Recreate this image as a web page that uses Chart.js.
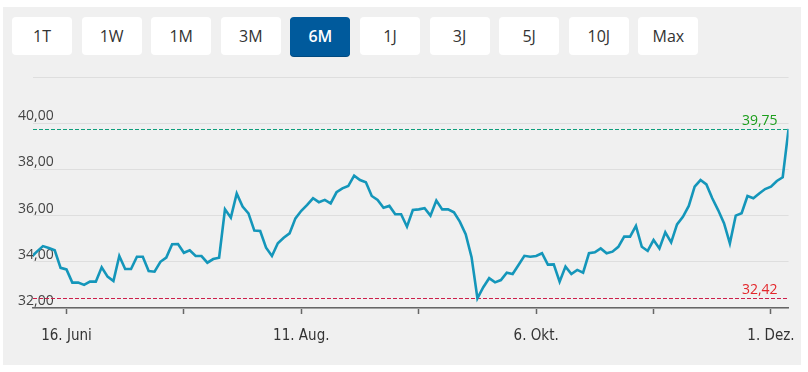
<!DOCTYPE html>
<html lang="de">
<head>
<meta charset="utf-8">
<script src="https://cdn.jsdelivr.net/npm/chart.js@4"></script>
<style>
  html, body { margin: 0; padding: 0; background: #fff; }
  body { width: 808px; height: 372px; position: relative; overflow: hidden; font-family: "Open Sans", sans-serif; }
  .panel { position: absolute; left: 3px; top: 7px; width: 798px; height: 358px; background: #f0f0f0; }
  .btn {
    position: absolute; top: 17px; width: 60px; height: 38px; border-radius: 4px;
    background: #fff; color: #333; font-size: 16px; line-height: 38px; text-align: center;
  }
  .btn.active { background: #005a9c; color: #fff; font-weight: 600; height: 39px; box-shadow: 0 1px 0 #004a80; }
  #price-chart { position: absolute; left: 0; top: 0; }
</style>
</head>
<body>
<div class="panel"></div>
<div id="buttons"></div>
<canvas id="price-chart" width="808" height="372"></canvas>
<script>
// Zeitraum-Buttons
const ranges = ['1T', '1W', '1M', '3M', '6M', '1J', '3J', '5J', '10J', 'Max'];
const activeRange = '6M';

// Kursverlauf (Handelstage, Index -1 liegt knapp vor dem sichtbaren Bereich)
const prices = [
  34.20, 34.45, 34.68, 34.60, 34.50, 33.74, 33.67, 33.10, 33.10, 33.00,
  33.14, 33.14, 33.76, 33.36, 33.17, 34.25, 33.69, 33.69, 34.22, 34.22,
  33.60, 33.57, 34.00, 34.18, 34.76, 34.77, 34.39, 34.50, 34.25, 34.25,
  33.96, 34.12, 34.18, 36.27, 35.91, 36.96, 36.39, 36.10, 35.35, 35.33,
  34.61, 34.25, 34.80, 35.04, 35.23, 35.88, 36.21, 36.46, 36.75, 36.58,
  36.68, 36.53, 37.01, 37.18, 37.28, 37.73, 37.54, 37.44, 36.85, 36.68,
  36.34, 36.42, 36.06, 36.06, 35.52, 36.24, 36.27, 36.32, 36.00, 36.65,
  36.27, 36.27, 36.14, 35.74, 35.20, 34.20, 32.42, 32.90, 33.29, 33.11,
  33.21, 33.53, 33.47, 33.86, 34.26, 34.22, 34.25, 34.37, 33.88, 33.89,
  33.14, 33.79, 33.47, 33.65, 33.53, 34.37, 34.41, 34.58, 34.37, 34.44,
  34.65, 35.09, 35.09, 35.55, 34.65, 34.47, 34.94, 34.58, 35.28, 34.84,
  35.62, 35.95, 36.42, 37.25, 37.54, 37.35, 36.75, 36.24, 35.67, 34.80,
  36.00, 36.10, 36.85, 36.75, 36.96, 37.15, 37.25, 37.50, 37.66, 39.75
];
const firstIndex = -1;

// Achsenbeschriftung
const tickPositions = [5, 25, 45, 65, 85, 105, 125];
const tickLabels = ['16. Juni', '', '11. Aug.', '', '6. Okt.', '', '1. Dez.'];
const yTicks = [32, 34, 36, 38, 40, 42];

// Markierungen: aktueller Kurs und Tief
const markerValues = [39.75, 32.42];
const markerLineColors = ['#109f7c', '#cc1f4a'];
const markerTextColors = ['#1c9e1c', '#e3262b'];

function formatDe(value) {
  return Number(value).toFixed(2).replace('.', ',');
}

// Buttons erzeugen
const btnWrap = document.getElementById('buttons');
ranges.forEach((label, i) => {
  const el = document.createElement('div');
  el.className = 'btn' + (label === activeRange ? ' active' : '');
  el.style.left = (12 + i * 69.6) + 'px';
  el.textContent = label;
  btnWrap.appendChild(el);
});

// Gestrichelte Linien für Kurs / Tief
const markerPlugin = {
  id: 'markers',
  beforeDatasetsDraw(chart) {
    const { ctx, chartArea, scales } = chart;
    ctx.save();
    markerValues.forEach((value, i) => {
      const y = Math.round(scales.y.getPixelForValue(value)) + 0.5;
      ctx.strokeStyle = markerLineColors[i];
      ctx.lineWidth = 1;
      ctx.setLineDash([4, 2]);
      ctx.beginPath();
      ctx.moveTo(chartArea.left, y);
      ctx.lineTo(chartArea.right, y);
      ctx.stroke();
      ctx.setLineDash([]);
      ctx.fillStyle = markerTextColors[i];
      ctx.font = '14px "Open Sans", sans-serif';
      ctx.textAlign = 'right';
      ctx.textBaseline = 'bottom';
      ctx.fillText(formatDe(value), chartArea.right - 11, y - 1);
    });
    ctx.restore();
  },
};

const points = prices.map((v, i) => ({ x: firstIndex + i, y: v }));

new Chart(document.getElementById('price-chart'), {
  type: 'line',
  data: {
    datasets: [
      {
        data: points,
        borderColor: '#1496ba',
        borderWidth: 2.6,
        pointRadius: 0,
        tension: 0,
        fill: false,
      },
    ],
  },
  options: {
    responsive: false,
    animation: false,
    devicePixelRatio: 1,
    layout: { padding: { left: 18, right: 18, top: 77, bottom: 14 } },
    plugins: {
      legend: { display: false },
      tooltip: { enabled: false },
    },
    scales: {
      x: {
        type: 'linear',
        min: -0.7,
        max: 128,
        afterBuildTicks: (scale) => {
          scale.ticks = tickPositions.map((value) => ({ value }));
        },
        ticks: {
          autoSkip: false,
          maxRotation: 0,
          padding: 13,
          color: '#333',
          font: { family: '"DejaVu Sans Condensed", "Liberation Sans Narrow", "Open Sans", sans-serif', size: 15 },
          callback: (value) => tickLabels[tickPositions.indexOf(value)] ?? '',
        },
        grid: { drawOnChartArea: false, drawTicks: true, tickLength: 6, tickColor: '#666', tickWidth: 1.5 },
        border: { color: '#666', width: 1.5 },
      },
      y: {
        min: 32,
        max: 42,
        afterBuildTicks: (scale) => {
          scale.ticks = yTicks.map((value) => ({ value }));
        },
        afterFit: (scale) => {
          scale.width = 15;
        },
        ticks: {
          mirror: true,
          padding: -15,
          labelOffset: -7,
          color: '#444',
          font: { family: '"Open Sans", sans-serif', size: 14 },
          callback: (value) => (value === 42 ? '' : formatDe(value)),
        },
        grid: { color: '#dedede', lineWidth: 1, drawTicks: false },
        border: { display: false },
      },
    },
  },
  plugins: [markerPlugin],
});
</script>
</body>
</html>
